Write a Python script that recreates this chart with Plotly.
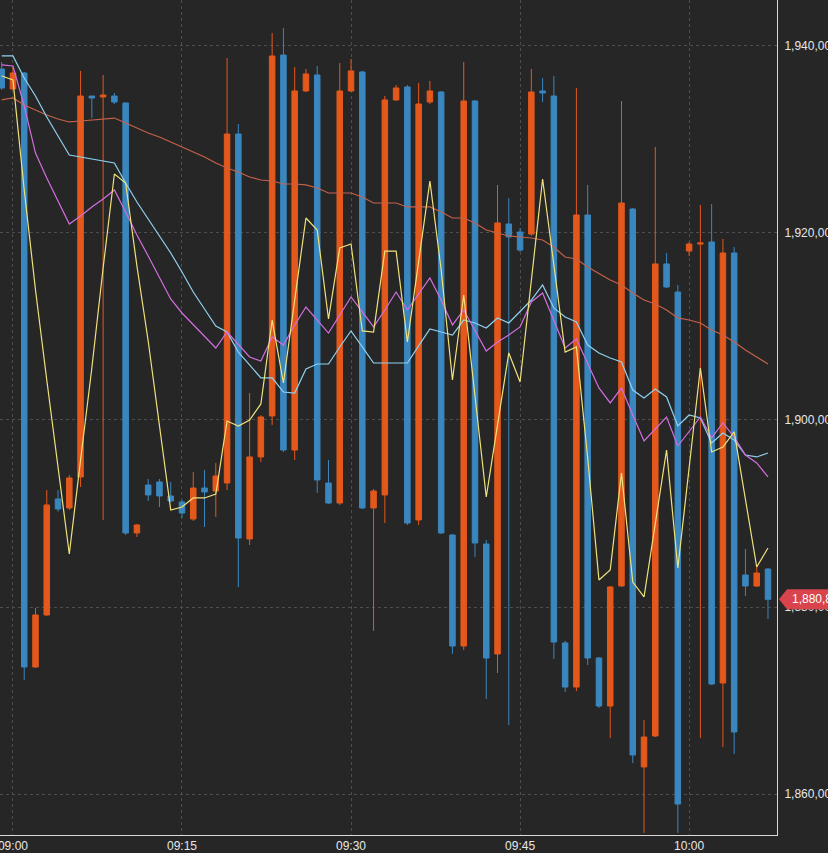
import plotly.graph_objects as go
import pandas as pd

# ---- data (1-minute bars, 08:59 .. 10:07) ----
start_time = "2024-01-02 08:59"
n_bars = 69
times = pd.date_range(start_time, periods=n_bars, freq="1min")

open_ = [1937.49, 1935.35, 1937.06, 1873.6, 1879.16, 1891.55, 1890.59, 1893.9, 1934.6, 1934.5,
         1934.6, 1933.86, 1887.92, 1893.04, 1893.37, 1891.87, 1891.23, 1889.41, 1892.72, 1892.4,
         1893.26, 1930.54, 1887.28, 1896.04, 1900.42, 1938.98, 1896.78, 1935.14, 1936.85, 1893.26,
         1891.12, 1935.14, 1937.17, 1890.59, 1891.98, 1934.18, 1935.57, 1889.31, 1933.96, 1935.03,
         1887.7, 1875.84, 1934.07, 1886.74, 1874.99, 1920.93, 1920.07, 1919.86, 1935.14, 1934.6,
         1876.17, 1871.46, 1921.89, 1874.56, 1869.43, 1882.26, 1922.53, 1862.92, 1866.23, 1916.66,
         1913.66, 1918.04, 1918.79, 1919.01, 1871.89, 1917.83, 1883.43, 1882.25, 1884.07]
high = [1938.24, 1937.6, 1937.17, 1879.9, 1892.51, 1892.5, 1894.1, 1937.28, 1934.6, 1936.85,
        1934.93, 1933.86, 1888.88, 1893.69, 1893.69, 1893.37, 1891.45, 1894.43, 1894.65, 1895.4,
        1938.66, 1931.61, 1902.87, 1900.5, 1941.34, 1941.87, 1937.7, 1937.49, 1937.81, 1895.72,
        1938.13, 1938.56, 1937.3, 1892.6, 1934.6, 1935.78, 1935.78, 1936.0, 1936.21, 1935.14,
        1887.8, 1938.24, 1934.17, 1887.17, 1925.1, 1923.71, 1920.5, 1937.49, 1936.53, 1936.74,
        1876.4, 1935.46, 1925.1, 1874.66, 1882.26, 1934.07, 1922.64, 1867.94, 1929.16, 1917.83,
        1914.41, 1919.0, 1922.96, 1923.07, 1919.33, 1918.47, 1886.21, 1884.28, 1884.17]
low = [1935.25, 1935.25, 1872.21, 1873.5, 1879.05, 1890.2, 1890.37, 1892.83, 1932.25, 1889.31,
       1933.75, 1887.7, 1887.49, 1891.34, 1890.69, 1891.23, 1889.52, 1889.2, 1888.56, 1889.63,
       1892.51, 1882.14, 1886.63, 1895.5, 1899.46, 1896.57, 1895.72, 1935.03, 1892.19, 1891.02,
       1890.9, 1935.03, 1890.48, 1877.45, 1888.98, 1934.07, 1888.77, 1888.77, 1933.75, 1887.81,
       1874.99, 1875.41, 1885.35, 1870.18, 1872.96, 1867.4, 1917.94, 1919.65, 1933.96, 1874.46,
       1870.93, 1871.03, 1873.81, 1869.22, 1866.02, 1882.15, 1863.34, 1855.87, 1866.12, 1914.1,
       1855.87, 1917.5, 1866.02, 1871.68, 1865.05, 1864.31, 1881.19, 1882.15, 1878.73]
close = [1935.46, 1937.06, 1873.6, 1879.16, 1890.91, 1890.48, 1893.79, 1934.6, 1934.39, 1934.71,
         1933.96, 1887.92, 1888.77, 1891.98, 1891.87, 1891.34, 1890.05, 1892.72, 1892.3, 1894.01,
         1930.54, 1887.38, 1896.04, 1900.31, 1938.88, 1896.78, 1935.14, 1936.96, 1893.58, 1891.12,
         1935.14, 1937.28, 1890.59, 1892.4, 1934.18, 1935.46, 1888.98, 1933.75, 1935.14, 1887.92,
         1875.84, 1934.07, 1886.85, 1874.56, 1921.04, 1919.54, 1918.15, 1935.03, 1934.93, 1876.27,
         1871.46, 1921.89, 1874.56, 1869.43, 1882.15, 1923.17, 1864.2, 1866.12, 1916.66, 1914.2,
         1858.96, 1918.79, 1918.9, 1871.78, 1917.83, 1866.66, 1882.25, 1883.64, 1880.83]

ma_yellow = [1936.74, 1936.31, 1924.56, 1913.88, 1904.26, 1894.65, 1885.67, 1895.72, 1905.54, 1916.23,
             1926.27, 1925.31, 1916.44, 1908.43, 1899.46, 1890.37, 1890.69, 1891.66, 1891.66, 1892.08,
             1899.88, 1899.35, 1899.99, 1901.7, 1910.67, 1903.94, 1912.81, 1921.57, 1920.29, 1910.78,
             1918.37, 1918.79, 1909.5, 1909.39, 1918.04, 1918.04, 1908.32, 1916.87, 1925.52, 1916.01,
             1904.26, 1913.34, 1902.55, 1891.76, 1899.46, 1907.15, 1904.05, 1914.95, 1925.74, 1916.55,
             1907.25, 1907.79, 1895.93, 1882.9, 1883.96, 1894.33, 1882.68, 1881.08, 1888.77, 1896.78,
             1884.18, 1894.86, 1905.54, 1896.57, 1897.1, 1898.71, 1891.44, 1884.28, 1886.31]
ma_magenta = [1937.92, 1937.81, 1933.54, 1928.51, 1925.84, 1923.39, 1920.93, 1921.78, 1922.75, 1923.6,
              1924.56, 1922.21, 1919.75, 1917.51, 1915.16, 1912.92, 1911.42, 1910.14, 1908.86, 1907.68,
              1909.39, 1908.0, 1906.72, 1906.29, 1908.86, 1908.0, 1910.14, 1912.06, 1910.67, 1909.28,
              1911.21, 1913.13, 1911.53, 1909.93, 1911.74, 1913.66, 1911.74, 1913.45, 1915.16, 1912.81,
              1910.14, 1911.74, 1909.6, 1907.36, 1908.32, 1909.07, 1909.93, 1912.6, 1913.56, 1910.67,
              1907.68, 1908.64, 1906.08, 1903.41, 1901.81, 1903.41, 1900.52, 1897.75, 1899.03, 1900.31,
              1897.21, 1898.71, 1900.31, 1898.07, 1899.67, 1898.17, 1896.25, 1895.4, 1893.9]
ma_cyan = [1938.88, 1938.88, 1936.53, 1934.6, 1932.36, 1930.33, 1928.3, 1928.09, 1927.87, 1927.66,
           1927.45, 1925.31, 1923.28, 1921.46, 1919.65, 1917.83, 1915.8, 1913.66, 1911.85, 1910.03,
           1909.39, 1907.25, 1905.87, 1904.48, 1904.48, 1902.98, 1902.87, 1905.44, 1905.97, 1905.97,
           1907.79, 1909.5, 1907.79, 1906.08, 1906.08, 1906.08, 1906.08, 1907.9, 1909.71, 1909.39,
           1909.07, 1910.67, 1910.35, 1909.82, 1910.89, 1910.35, 1911.53, 1912.81, 1914.41, 1911.96,
           1910.99, 1910.46, 1908.0, 1907.15, 1906.61, 1906.19, 1903.19, 1902.34, 1903.3, 1902.45,
           1899.35, 1900.52, 1900.2, 1897.53, 1898.6, 1897.85, 1896.25, 1896.04, 1896.46]
ma_salmon = [1934.18, 1934.39, 1933.64, 1933.11, 1932.57, 1932.15, 1931.83, 1931.93, 1932.04, 1932.15,
             1932.25, 1931.72, 1931.19, 1930.65, 1930.22, 1929.69, 1929.16, 1928.62, 1928.09, 1927.45,
             1926.91, 1926.49, 1925.95, 1925.63, 1925.52, 1925.2, 1925.2, 1925.1, 1924.78, 1924.24,
             1924.24, 1924.24, 1923.81, 1923.17, 1923.17, 1923.17, 1922.75, 1922.75, 1922.75, 1922.21,
             1921.57, 1921.57, 1921.04, 1920.29, 1919.97, 1919.65, 1919.54, 1919.43, 1919.22, 1918.47,
             1917.4, 1917.19, 1916.34, 1915.69, 1914.95, 1914.41, 1913.56, 1912.81, 1912.38, 1911.74,
             1910.89, 1910.67, 1910.35, 1909.6, 1909.07, 1908.32, 1907.47, 1906.72, 1905.97]

y_ticks = [1860, 1880, 1900, 1920, 1940]
y_tick_labels = ["1,860,00", "1,880,00", "1,900,00", "1,920,00", "1,940,00"]
x_ticks = ["2024-01-02 09:00", "2024-01-02 09:15", "2024-01-02 09:30",
           "2024-01-02 09:45", "2024-01-02 10:00"]
x_tick_labels = ["09:00", "09:15", "09:30", "09:45", "10:00"]
last_price_label = "1,880,83"

# ---- styling ----
BG = "#262626"
UP = "#e4581c"
DOWN = "#3a87bf"
GRID = "#4d4d4d"
AXIS = "#d8d8d8"
TXT = "#e6e6e6"
TAG = "#d9434b"

y_range = [1855.65, 1944.86]
x_range = ["2024-01-02 08:58:51", "2024-01-02 10:07:48"]

fig = go.Figure()
fig.add_trace(go.Candlestick(
    x=times, open=open_, high=high, low=low, close=close,
    increasing=dict(line=dict(color=UP, width=1), fillcolor=UP),
    decreasing=dict(line=dict(color=DOWN, width=1), fillcolor=DOWN),
    whiskerwidth=0, showlegend=False, hoverinfo="skip",
))
for vals, col, w in [(ma_salmon, "#c4614a", 1.2), (ma_cyan, "#8fd1ef", 1.2),
                     (ma_magenta, "#d46ee0", 1.2), (ma_yellow, "#efe27a", 1.2)]:
    fig.add_trace(go.Scatter(x=times, y=vals, mode="lines",
                             line=dict(color=col, width=w), showlegend=False,
                             hoverinfo="skip"))

W, H = 828, 853
ml, mr, mt, mb = 0, 51, 0, 18
pw = W - ml - mr
ph = H - mt - mb

fig.update_layout(
    width=W, height=H,
    margin=dict(l=ml, r=mr, t=mt, b=mb, pad=0),
    paper_bgcolor=BG, plot_bgcolor=BG,
    font=dict(family="Liberation Sans, Arial, sans-serif", size=12, color=TXT),
    showlegend=False,
    xaxis=dict(
        type="date", range=x_range, rangeslider=dict(visible=False),
        tickvals=x_ticks, ticktext=x_tick_labels,
        showgrid=True, gridcolor=GRID, griddash="dot", gridwidth=1,
        showline=True, linecolor=AXIS, linewidth=1,
        ticks="", zeroline=False, automargin=False,
        ticklabeloverflow="allow",
        tickfont=dict(size=12, color=TXT),
    ),
    yaxis=dict(
        side="right", range=y_range,
        tickvals=y_ticks, ticktext=y_tick_labels,
        showgrid=True, gridcolor=GRID, griddash="dot", gridwidth=1,
        showline=True, linecolor=AXIS, linewidth=1,
        ticks="", zeroline=False, automargin=False,
        ticklabelstandoff=4, ticklabeloverflow="allow",
        tickfont=dict(size=12, color=TXT),
    ),
)

# last price tag
last = close[-1]
yp = (last - y_range[0]) / (y_range[1] - y_range[0])
hp = 10.0 / ph
x_tip = 1.0 + 2.0 / pw
x_b0 = 1.0 + 10.0 / pw
x_b1 = 1.0 + 60.0 / pw
fig.add_shape(type="path", xref="paper", yref="paper", layer="above",
              path=f"M {x_tip} {yp} L {x_b0} {yp + hp} L {x_b1} {yp + hp} L {x_b1} {yp - hp} L {x_b0} {yp - hp} Z",
              fillcolor=TAG, line=dict(width=0))
fig.add_annotation(xref="paper", yref="y", x=1.0, y=last, xanchor="left",
                   xshift=13, text=last_price_label, showarrow=False,
                   font=dict(size=12, color="#ffffff"))

fig.write_html(
    "out.html",
    config={"displayModeBar": False},
    post_script="document.body.style.margin='0';document.body.style.background='#262626';",
)
